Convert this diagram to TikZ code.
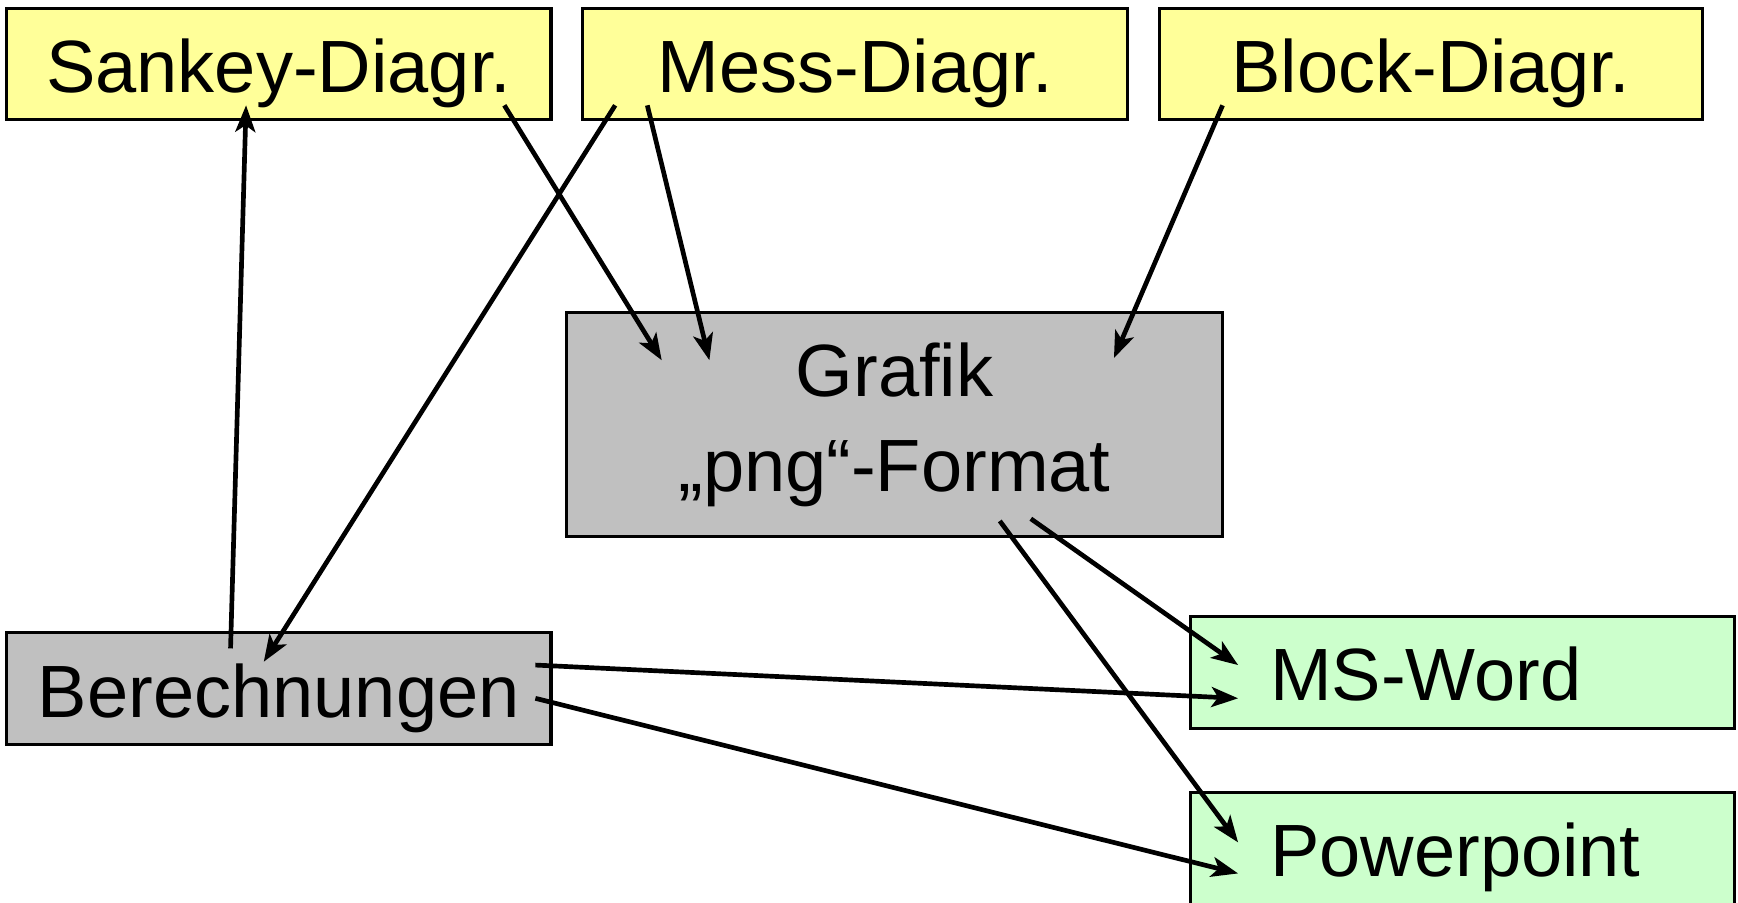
\documentclass[tikz,border=0pt]{standalone}
\usepackage{fontspec}
\setmainfont{Liberation Sans}
\usepackage{tikz}
\usetikzlibrary{shapes.geometric, arrows.meta}
\definecolor{diagyellow}{HTML}{FFFF99}
\definecolor{calcgray}{HTML}{C0C0C0}
\definecolor{outgreen}{HTML}{CCFFCC}
\tikzstyle{arrow} = [line width=1.2pt,-{Stealth[length=2.4mm,width=1.8mm,inset=0.6mm]}]
\tikzstyle{frame} = [draw, line width=0.8pt, inner sep=0pt,
    font=\fontsize{19}{23}\selectfont]
\tikzstyle{box} = [frame, minimum width=4.91cm, minimum height=1.0cm,
    text height=0.51cm, text depth=0pt]
\tikzstyle{outbox} = [box, fill=outgreen, text width=3.47cm, align=left, inner xsep=0.72cm]

\begin{document}
\begin{tikzpicture}[x=0.01cm, y=-0.01cm]
        \useasboundingbox (0,0) rectangle (1568,814);
        % sources
        \node (sankey)[box, fill=diagyellow] at (251.5,58) {Sankey-Diagr.};
        \node (mess)[box, fill=diagyellow] at (771.5,58) {Mess-Diagr.};
        \node (block)[box, fill=diagyellow,
            minimum width=4.90cm] at (1291,58) {Block-Diagr.};
        % middle
        \node (grafik)[frame, fill=calcgray,
            minimum width=5.92cm,
            minimum height=2.02cm,
            align=center] at (807,383) {Grafik\\[0.05cm]„png“-Format};
        \node (calc)[box, fill=calcgray,
            minimum height=1.01cm] at (251.5,621.5) {Berechnungen};
        % targets
        \node (word)[outbox,
            minimum height=1.01cm] at (1319.5,606.5) {MS-Word};
        \node (ppt)[outbox,
            minimum height=1.01cm] at (1319.5,765.5) {Powerpoint};
        % connectors
        \draw [arrow] ([shift={(-43.5,-36.5)}]calc.center) -- ([shift={(-29.5,37)}]sankey.center);
        \draw [arrow] ([shift={(203.5,37)}]sankey.center) -- ([shift={(-210,-58)}]grafik.center);
        \draw [arrow] ([shift={(-216.5,37)}]mess.center) -- ([shift={(-13.5,-24.5)}]calc.center);
        \draw [arrow] ([shift={(-187.5,37)}]mess.center) -- ([shift={(-167,-58)}]grafik.center);
        \draw [arrow] ([shift={(-188,37)}]block.center) -- ([shift={(198,-60)}]grafik.center);
        \draw [arrow] ([shift={(123,85)}]grafik.center) -- ([shift={(-202.5,-6.5)}]word.center);
        \draw [arrow] ([shift={(95,87)}]grafik.center) -- ([shift={(-202.5,-5.5)}]ppt.center);
        \draw [arrow] ([shift={(231.5,-21.5)}]calc.center) -- ([shift={(-202.5,23.5)}]word.center);
        \draw [arrow] ([shift={(231.5,8.5)}]calc.center) -- ([shift={(-202.5,22.5)}]ppt.center);
    \end{tikzpicture}
\end{document}
